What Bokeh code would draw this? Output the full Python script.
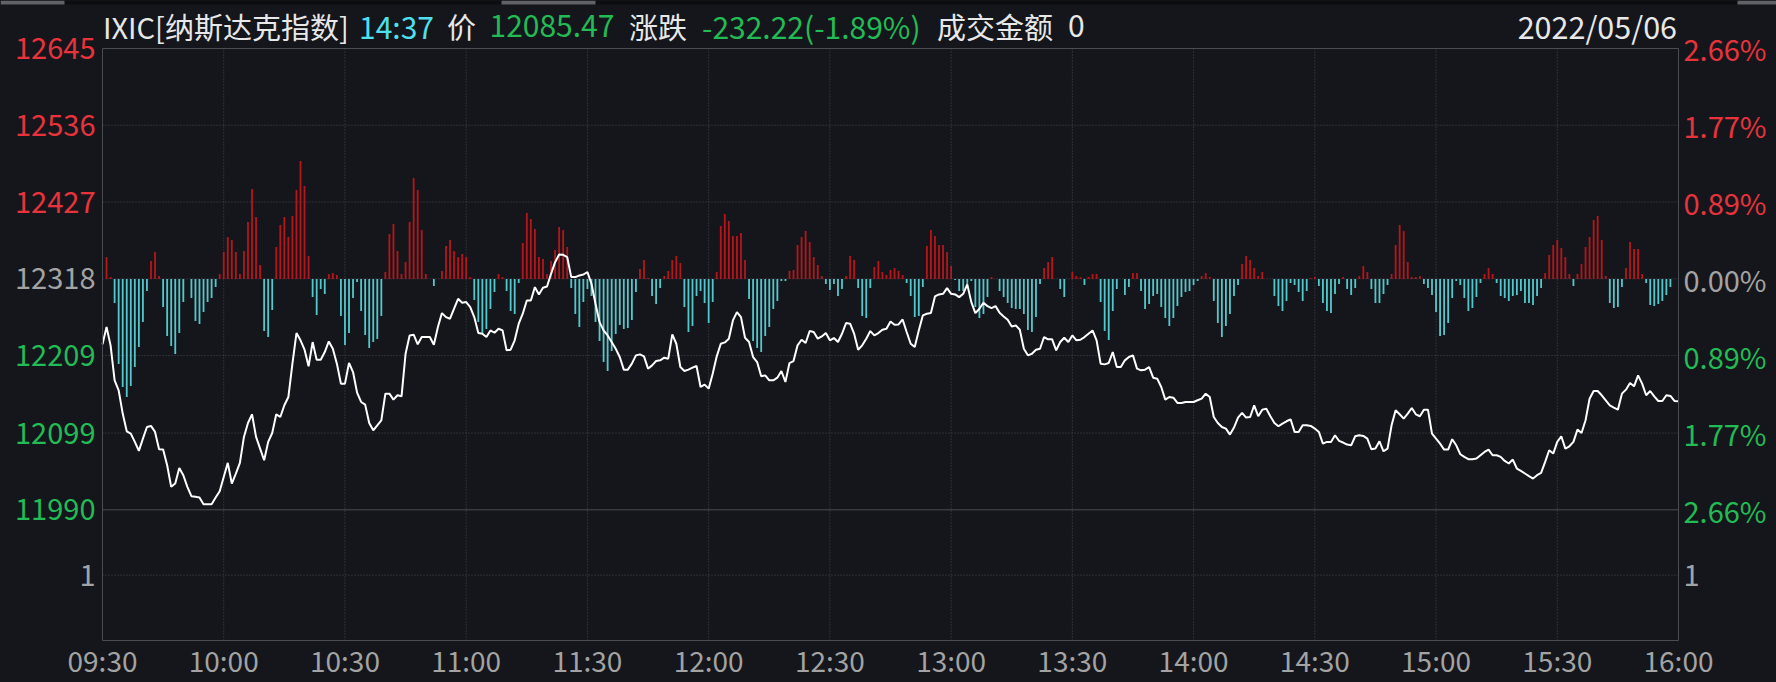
from bokeh.plotting import figure
from bokeh.models import Range1d, Label, BoxAnnotation
from bokeh.embed import file_html
from bokeh.resources import INLINE

# ---------------- data ----------------
prev_close = 12317.69
price_ticks = [12645, 12536, 12427, 12318, 12209, 12099, 11990]
price_tick_labels = ["12645", "12536", "12427", "12318", "12209", "12099", "11990"]
pct_ticks = [2.66, 1.77, 0.89, 0.00, -0.89, -1.77, -2.66]
pct_tick_labels = ["2.66%", "1.77%", "0.89%", "0.00%", "0.89%", "1.77%", "2.66%"]
vol_ticks = [1]
vol_tick_labels = ["1"]
time_ticks = [0, 30, 60, 90, 120, 150, 180, 210, 240, 270, 300, 330, 360, 390]
time_tick_labels = ["09:30", "10:00", "10:30", "11:00", "11:30", "12:00", "12:30",
                    "13:00", "13:30", "14:00", "14:30", "15:00", "15:30", "16:00"]

# minute-by-minute index price (minute 0 = 09:30)
prices = [
    12224.9, 12249.5, 12223.5, 12173.8, 12159.6, 12126.6, 12101.5, 12098.2, 12086.4, 12073.6,
    12091.1, 12107.6, 12109.1, 12100.6, 12076.0, 12075.5, 12053.3, 12022.6, 12027.3, 12049.5,
    12039.1, 12022.6, 12009.3, 12008.4, 12007.4, 11998.0, 11998.0, 11998.0, 12007.4, 12016.4,
    12036.7, 12056.6, 12027.3, 12041.5, 12056.6, 12093.5, 12113.3, 12125.6, 12093.5, 12076.9,
    12060.4, 12086.4, 12099.1, 12125.6, 12121.8, 12138.4, 12150.2, 12197.5, 12240.9, 12230.6,
    12217.3, 12193.7, 12228.2, 12203.1, 12203.1, 12214.0, 12229.1, 12218.7, 12197.5, 12169.1,
    12169.1, 12198.4, 12185.6, 12156.3, 12143.1, 12139.3, 12113.3, 12102.9, 12110.0, 12117.1,
    12154.9, 12154.9, 12146.4, 12152.6, 12151.1, 12211.6, 12237.6, 12238.6, 12224.9, 12235.3,
    12235.3, 12235.3, 12224.4, 12249.5, 12269.3, 12263.6, 12261.3, 12275.5, 12289.6, 12284.0,
    12284.9, 12277.8, 12263.6, 12240.9, 12240.0, 12235.3, 12244.7, 12241.4, 12247.1, 12244.7,
    12216.4, 12217.3, 12230.6, 12254.2, 12268.4, 12287.3, 12287.3, 12306.2, 12295.8, 12305.2,
    12307.1, 12325.1, 12341.6, 12352.5, 12352.0, 12348.7, 12320.4, 12320.4, 12322.7, 12324.1,
    12327.5, 12310.9, 12282.5, 12256.5, 12244.7, 12237.6, 12228.2, 12218.7, 12206.9, 12189.0,
    12189.0, 12197.5, 12209.3, 12210.7, 12207.9, 12190.4, 12195.1, 12201.2, 12202.2, 12206.0,
    12204.6, 12239.1, 12225.8, 12192.7, 12187.1, 12189.0, 12191.8, 12194.2, 12164.4, 12167.7,
    12162.0, 12183.3, 12207.9, 12225.8, 12227.7, 12232.9, 12258.9, 12270.7, 12263.6, 12234.3,
    12228.2, 12206.9, 12199.8, 12179.5, 12180.9, 12173.8, 12173.8, 12177.6, 12187.1, 12171.5,
    12198.4, 12201.2, 12223.5, 12231.5, 12226.8, 12243.8, 12242.4, 12232.9, 12236.2, 12240.9,
    12230.6, 12233.9, 12228.2, 12240.0, 12255.1, 12254.2, 12240.0, 12217.3, 12223.5, 12232.9,
    12243.8, 12237.6, 12240.9, 12245.7, 12247.1, 12257.5, 12252.8, 12253.2, 12260.3, 12242.4,
    12225.8, 12221.1, 12244.7, 12266.0, 12268.4, 12269.3, 12292.9, 12295.8, 12296.7, 12304.8,
    12296.7, 12295.8, 12292.0, 12296.7, 12310.0, 12284.9, 12269.3, 12275.5, 12284.0, 12279.2,
    12276.4, 12279.2, 12269.8, 12264.6, 12259.9, 12250.4, 12251.8, 12245.7, 12218.7, 12209.3,
    12211.6, 12217.3, 12218.7, 12235.3, 12232.0, 12232.0, 12216.4, 12228.2, 12234.3, 12228.2,
    12237.6, 12230.6, 12231.5, 12235.3, 12240.0, 12244.7, 12230.6, 12197.5, 12196.5, 12198.4,
    12214.0, 12192.7, 12192.7, 12202.2, 12206.9, 12209.3, 12190.4, 12188.0, 12189.0, 12192.7,
    12177.6, 12176.2, 12164.4, 12146.4, 12150.2, 12149.2, 12141.7, 12141.7, 12143.1, 12143.1,
    12143.1, 12145.5, 12147.8, 12154.9, 12150.2, 12121.8, 12113.3, 12107.6, 12105.3, 12096.8,
    12106.7, 12120.9, 12127.5, 12120.9, 12121.8, 12138.4, 12122.8, 12132.2, 12133.6, 12122.8,
    12113.3, 12108.6, 12112.4, 12115.7, 12118.5, 12100.6, 12100.6, 12110.0, 12110.0, 12109.1,
    12105.3, 12100.6, 12084.0, 12086.4, 12086.4, 12095.8, 12087.8, 12085.5, 12082.6, 12081.6,
    12094.4, 12095.8, 12094.9, 12091.1, 12076.0, 12076.9, 12087.3, 12073.1, 12076.9, 12110.0,
    12131.3, 12125.6, 12119.5, 12126.6, 12134.6, 12125.6, 12122.8, 12132.2, 12132.2, 12098.2,
    12091.1, 12084.0, 12075.5, 12075.5, 12090.2, 12081.6, 12068.9, 12065.1, 12061.8, 12061.8,
    12062.7, 12067.5, 12072.2, 12075.5, 12067.5, 12067.5, 12065.1, 12059.4, 12055.7, 12061.3,
    12048.6, 12045.3, 12041.5, 12037.7, 12034.4, 12039.1, 12042.4, 12058.0, 12074.6, 12069.8,
    12086.4, 12094.4, 12076.9, 12080.2, 12086.4, 12103.9, 12099.1, 12117.1, 12147.8, 12158.7,
    12158.7, 12152.6, 12145.5, 12138.4, 12135.1, 12132.2, 12154.9, 12160.6, 12170.0, 12165.3,
    12180.9, 12169.1, 12152.6, 12158.7, 12151.1, 12144.5, 12144.5, 12152.6, 12151.6, 12144.5,
    12144.0,
]

# red / cyan indicator bars, one per minute (minute 1 .. 390)
bar_values = [
    22, 2, -24, -85, -108, -118, -107, -88, -68, -43,
    -12, 18, 27, 3, -28, -57, -67, -75, -54, -23,
    0, -19, -42, -45, -33, -23, -19, -8, 5, 27,
    42, 39, 27, 5, 28, 57, 90, 62, 14, -52,
    -58, -31, 32, 54, 62, 42, 63, 89, 118, 93,
    23, -18, -36, -10, -15, 5, 6, 4, -37, -66,
    -54, -19, -3, -32, -56, -69, -63, -60, -37, 7,
    45, 55, 28, 5, 17, 57, 101, 89, 49, 5,
    0, -7, 0, 8, 33, 39, 28, 22, 25, 22,
    2, -21, -43, -55, -50, -30, -13, 5, 2, -12,
    -32, -35, -4, 36, 66, 60, 50, 22, 20, 5,
    18, 29, 52, 49, 32, -9, -35, -48, -23, -10,
    -17, -43, -62, -83, -92, -72, -55, -46, -50, -49,
    -41, -13, 10, 19, 1, -17, -25, -9, 3, 8,
    19, 23, 16, -28, -53, -47, -17, -12, -24, -44,
    -23, 7, 53, 65, 58, 43, 43, 46, 19, -20,
    -62, -69, -73, -57, -48, -30, -22, -2, -2, 8,
    9, 34, 42, 48, 37, 22, 14, 3, -5, -11,
    -5, -17, -10, 3, 23, 19, -9, -37, -39, -9,
    12, 18, 7, 4, 9, 11, 8, 4, -4, -17,
    -38, -37, -8, 33, 49, 43, 34, 34, 27, 13,
    -1, -12, -12, -5, -2, -28, -39, -35, -18, 2,
    0, -12, -18, -24, -29, -30, -30, -35, -51, -53,
    -38, -5, 11, 17, 22, 0, -10, -18, 0, 7,
    3, 2, -6, 2, 5, 5, -23, -52, -61, -32,
    -10, 0, -16, -8, 6, 6, -12, -30, -25, -17,
    -15, -28, -39, -47, -39, -27, -18, -13, -12, -6,
    -2, 3, 6, 2, -22, -44, -58, -47, -35, -17,
    -6, 15, 23, 19, 11, 3, 7, 0, 0, -17,
    -27, -32, -22, -4, -6, -13, -22, -12, 1, 2,
    -7, -24, -32, -34, -15, -5, 2, -10, -16, -9,
    3, 13, 7, -10, -24, -24, -15, -6, 5, 34,
    54, 48, 17, 2, 2, 3, -5, -9, -16, -33,
    -57, -56, -44, -19, -2, -6, -19, -32, -29, -18,
    -4, 5, 11, 5, -4, -17, -19, -22, -17, -16,
    -12, -24, -24, -26, -17, -9, 6, 24, 34, 39,
    31, 22, 5, -7, 5, 15, 32, 42, 59, 63,
    39, 3, -24, -29, -28, -8, 11, 37, 30, 30,
    5, -4, -26, -27, -25, -22, -16, -8, 0, 0,
]

# header
hdr_code = "IXIC[纳斯达克指数]"
hdr_time = "14:37"
hdr_price_lbl = "价"
hdr_price = "12085.47"
hdr_chg_lbl = "涨跌"
hdr_chg = "-232.22(-1.89%)"
hdr_amt_lbl = "成交金额"
hdr_amt = "0"
hdr_date = "2022/05/06"

# ---------------- styling ----------------
BG = "#14161b"
FRAME = "#4a4d54"
GRID = "#464950"
RED_TXT = "#e8333d"
GREEN_TXT = "#22bb55"
GRAY_TXT = "#a3a3a3"
WHITE_TXT = "#e8e8e8"
CYAN_TXT = "#4fe0ee"
RED_BAR = "#b8151a"
CYAN_BAR = "#52c8cc"
TAB_DARK = "#0c0d10"
TAB_LIGHT = "#606268"
FONT = "Noto Sans CJK SC"

W, H = 1776, 682
PL, PR, PT, PB = 102, 1678, 48, 640    # plot-area box in canvas pixels
PRICE_PANEL_H = 461.3                  # px from plot top down to the 11990 separator
VOL_PANEL_H = (PB - PT) - PRICE_PANEL_H

ppm = (PR - PL) / (time_ticks[-1] - time_ticks[0])          # px per minute
ppx = (price_ticks[0] - price_ticks[-1]) / PRICE_PANEL_H     # price per px
y_top = price_ticks[0]
y_bot = y_top - (PB - PT) * ppx
y_start = y_top - (H - PT) * ppx
y_end = y_top + PT * ppx

minutes = list(range(len(prices)))
bar_minutes = list(range(1, len(bar_values) + 1))

p = figure(width=W, height=H, output_backend="svg", toolbar_location=None,
           x_axis_location=None, y_axis_location=None,
           x_range=Range1d(time_ticks[0] - PL / ppm, time_ticks[-1] + (W - PR) / ppm),
           y_range=Range1d(y_start, y_end),
           min_border=0, background_fill_color=BG, border_fill_color=BG,
           outline_line_color=None)
p.xgrid.visible = False
p.ygrid.visible = False

p.extra_y_ranges = {
    "bars": Range1d((y_start - prev_close) / ppx, (y_end - prev_close) / ppx),
    "pct": Range1d((y_start / prev_close - 1) * 100, (y_end / prev_close - 1) * 100),
    "vol": Range1d(-2 * (H - PB) / VOL_PANEL_H, 2 * PB / VOL_PANEL_H),
}

# window tab strip along the very top edge
p.add_layout(BoxAnnotation(left=0, right=W, bottom=H - 4, top=H, left_units="screen",
                           right_units="screen", bottom_units="screen", top_units="screen",
                           fill_color=TAB_DARK, fill_alpha=1, line_color=None))
for l, r in [(0, 64), (501, 595), (1737, W)]:
    p.add_layout(BoxAnnotation(left=l, right=r, bottom=H - 4, top=H, left_units="screen",
                               right_units="screen", bottom_units="screen", top_units="screen",
                               fill_color=TAB_LIGHT, fill_alpha=1, line_color=None))

# grid lines (dotted)
gx = time_ticks[1:-1]
p.segment(x0=gx, y0=[y_bot] * len(gx), x1=gx, y1=[y_top] * len(gx),
          line_color=GRID, line_dash="1 2", line_width=1)
gy = price_ticks[1:-1]
p.segment(x0=[time_ticks[0]] * len(gy), y0=gy, x1=[time_ticks[-1]] * len(gy), y1=gy,
          line_color=GRID, line_dash="1 2", line_width=1)
p.segment(x0=[time_ticks[0]] * len(vol_ticks), y0=vol_ticks,
          x1=[time_ticks[-1]] * len(vol_ticks), y1=vol_ticks, y_range_name="vol",
          line_color=GRID, line_dash="1 2", line_width=1)

# bars
up = [(m, v) for m, v in zip(bar_minutes, bar_values) if v > 0]
dn = [(m, v) for m, v in zip(bar_minutes, bar_values) if v < 0]
p.vbar(x=[m for m, _ in up], top=[v for _, v in up], bottom=0, width=0.45,
       fill_color=RED_BAR, line_color=None, y_range_name="bars")
p.vbar(x=[m for m, _ in dn], top=[v for _, v in dn], bottom=0, width=0.45,
       fill_color=CYAN_BAR, line_color=None, y_range_name="bars")

# price line
p.line(minutes, prices, line_color="white", line_width=2)

# plot frame + panel separator
p.quad(left=[time_ticks[0]], right=[time_ticks[-1]], bottom=[y_bot], top=[y_top],
       fill_color=None, line_color=FRAME, line_width=1)
p.segment(x0=[time_ticks[0]], y0=[price_ticks[-1]], x1=[time_ticks[-1]], y1=[price_ticks[-1]],
          line_color=FRAME, line_width=1)

# ---------------- tick labels ----------------
def side_color(v, mid):
    return RED_TXT if v > mid else (GREEN_TXT if v < mid else GRAY_TXT)

def add_label(**kw):
    base = dict(text_font=FONT, text_font_size="29px", text_baseline="middle")
    base.update(kw)
    p.add_layout(Label(**base))

for v, t in zip(price_ticks, price_tick_labels):
    add_label(x=PL - 7, x_units="screen", y=v, text=t,
              text_align="right", text_color=side_color(v, 12318))
for v, t in zip(pct_ticks, pct_tick_labels):
    add_label(x=PR + 5, x_units="screen", y=v, y_range_name="pct",
              text=t, text_align="left", text_color=side_color(v, 0))
for v, t in zip(vol_ticks, vol_tick_labels):
    add_label(x=PL - 7, x_units="screen", y=v, y_range_name="vol",
              text=t, text_align="right", text_color=GRAY_TXT)
    add_label(x=PR + 5, x_units="screen", y=v, y_range_name="vol",
              text=t, text_align="left", text_color=GRAY_TXT)
for v, t in zip(time_ticks, time_tick_labels):
    add_label(x=v, y=H - 659.5, y_units="screen", text=t, text_align="center",
              text_color=GRAY_TXT, text_font_size="28px")

# ---------------- header ----------------
HY = H - 25          # text middle, canvas px from bottom
for txt, xx, col, fs in [(hdr_code, 102.5, WHITE_TXT, "29px"),
                         (hdr_time, 358.5, CYAN_TXT, "30px"),
                         (hdr_price_lbl, 446.5, WHITE_TXT, "29px"),
                         (hdr_price, 489, GREEN_TXT, "30px"),
                         (hdr_chg_lbl, 628.5, WHITE_TXT, "29px"),
                         (hdr_chg, 701.5, GREEN_TXT, "30px"),
                         (hdr_amt_lbl, 936.5, WHITE_TXT, "29px"),
                         (hdr_amt, 1067.5, WHITE_TXT, "30px")]:
    add_label(x=xx, y=HY, x_units="screen", y_units="screen", text=txt,
              text_color=col, text_align="left", text_font_size=fs)
add_label(x=1676.5, y=HY, x_units="screen", y_units="screen", text=hdr_date,
          text_color=WHITE_TXT, text_align="right", text_font_size="30.5px")

html = file_html(p, INLINE, "IXIC")
html = html.replace(
    "</head>",
    "<style>html,body{margin:0;padding:0;overflow:hidden;background-color:%s;}</style></head>"
    % BG, 1)
open("out.html", "w").write(html)
